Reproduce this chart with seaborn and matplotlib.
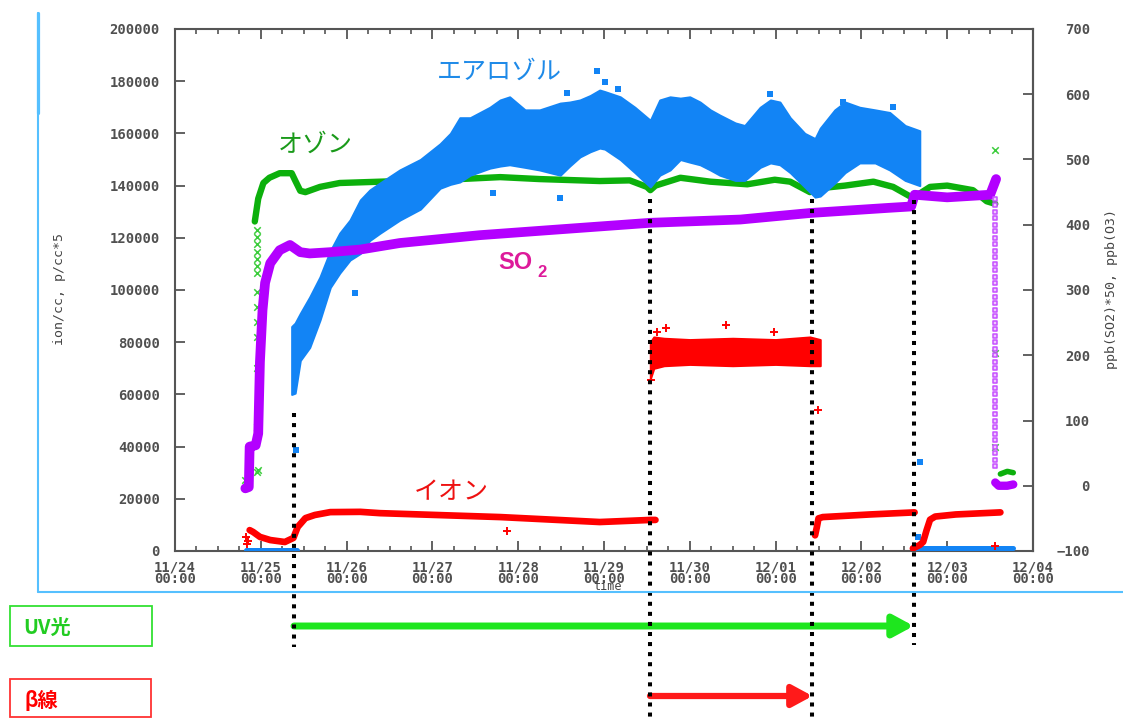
import numpy as np
import pandas as pd
import seaborn as sns
import matplotlib.pyplot as plt
import matplotlib.transforms as mtransforms
from matplotlib.patches import Rectangle
from matplotlib.lines import Line2D
from matplotlib.ticker import MultipleLocator

# ---------------- data (time in days since 11/24 00:00) ----------------
day_labels = ['11/24', '11/25', '11/26', '11/27', '11/28', '11/29',
              '11/30', '12/01', '12/02', '12/03', '12/04']
left_ticks = [0, 20000, 40000, 60000, 80000, 100000, 120000, 140000, 160000, 180000, 200000]
right_ticks = [-100, 0, 100, 200, 300, 400, 500, 600, 700]

# events: UV on, beta on, beta off, UV off
event_days = [1.387, 5.536, 7.43, 8.61]

# ozone, ppb (right axis)
ozone_t = [0.93, 0.97, 1.03, 1.10, 1.22, 1.36, 1.40, 1.46, 1.52, 1.69, 1.92, 2.39, 2.86, 3.32,
           3.79, 4.25, 4.72, 4.95, 5.30, 5.50, 5.54, 5.60, 5.89, 6.24, 6.67, 6.99, 7.17, 7.40,
           7.52, 7.81, 8.14, 8.37, 8.60, 8.80, 9.00, 9.30, 9.46, 9.56]
ozone_v = [405, 440, 464, 472, 479, 479, 468, 452, 450, 458, 464, 466, 468, 470,
           473, 470, 468, 467, 468, 458, 453, 460, 472, 466, 462, 469, 466, 450,
           456, 460, 466, 458, 441, 458, 460, 453, 436, 432]
ozone_end_t = [9.62, 9.70, 9.77]
ozone_end_v = [18, 22, 20]
ozone_sparse_t = [0.95, 0.95, 0.95, 0.95, 0.95, 0.95, 0.95, 0.95, 0.95, 0.95, 0.95, 0.95,
                  0.95, 0.95, 0.82, 0.97, 9.56, 9.56, 9.56]
ozone_sparse_v = [392, 381, 370, 359, 348, 337, 326, 297, 274, 251, 228, 180,
                  90, 21, 9, 24, 514, 204, 60]

# SO2*50, ppb (right axis)
so2_t = [0.82, 0.86, 0.87, 0.94, 0.97, 0.99, 1.02, 1.05, 1.11, 1.22, 1.34, 1.46, 1.57, 1.81,
         2.16, 2.62, 3.55, 4.49, 5.54, 6.59, 7.40, 8.33, 8.58, 8.62, 9.00, 9.50, 9.57]
so2_v = [-4, -2, 60, 62, 80, 190, 269, 311, 341, 361, 369, 358, 356, 358,
         362, 372, 384, 393, 403, 408, 418, 426, 428, 446, 442, 446, 470]
so2_fall_v = [440, 430, 420, 410, 400, 390, 380, 370, 360, 350, 340, 330, 320, 310,
              300, 290, 280, 270, 260, 250, 240, 230, 220, 210, 200, 190, 180, 170,
              160, 150, 140, 130, 120, 110, 100, 90, 80, 70, 60, 50, 40, 30]
so2_fall_day = 9.56
so2_end_t = [9.56, 9.60, 9.70, 9.77]
so2_end_v = [5, 0, 0, 2]

# aerosol envelope (left axis)
aer_t = [1.36, 1.40, 1.46, 1.57, 1.69, 1.81, 1.92, 2.04, 2.16, 2.27, 2.39, 2.62, 2.86, 3.09,
         3.21, 3.32, 3.44, 3.67, 3.79, 3.90, 4.08, 4.25, 4.49, 4.60, 4.72, 4.84, 4.95, 5.01,
         5.19, 5.36, 5.54, 5.65, 5.77, 5.89, 6.00, 6.12, 6.24, 6.35, 6.53, 6.64, 6.82, 6.94,
         7.05, 7.17, 7.34, 7.46, 7.52, 7.69, 7.81, 7.98, 8.16, 8.33, 8.51, 8.68]
aer_high = [86000, 87300, 91000, 97300, 105000, 115000, 121800, 126800, 134500, 138300,
            141000, 146000, 150000, 156000, 160000, 166000, 166000, 170000, 172800, 174000,
            169000, 169000, 171600, 172000, 172800, 174500, 176600, 176000, 174000, 170000,
            165000, 172800, 174000, 173500, 174000, 172000, 169000, 167000, 164000, 163000,
            170000, 172800, 172000, 166000, 160000, 158000, 162000, 169000, 172000, 170000,
            169000, 168000, 163000, 161000]
aer_low = [60000, 60500, 73000, 78000, 88500, 101000, 106500, 111500, 114000, 119000,
           121800, 126800, 131000, 139000, 140500, 141400, 144000, 146700, 147500, 148000,
           147000, 146000, 144000, 147500, 151000, 153000, 154400, 154000, 150000, 145000,
           139500, 144000, 146000, 150000, 149000, 148000, 146000, 144000, 142000, 142000,
           147000, 148700, 148000, 145000, 139500, 135600, 136000, 141000, 145000, 148700,
           148700, 146000, 142000, 140000]
aer_out_t = [4.92, 5.01, 5.16, 3.71, 4.49, 7.78, 8.37, 1.41, 8.68, 8.66, 2.10, 4.57, 6.93]
aer_out_v = [183900, 179700, 177000, 137000, 135300, 172000, 170000, 38700, 34000, 5400,
             98800, 175500, 175000]
aer_zero1_t = [0.83, 1.42]
aer_zero1_v = [400, 400]
aer_zero2_t = [8.60, 9.77]
aer_zero2_v = [1100, 1100]

# ions (left axis)
ion_a_t = [0.87, 0.91, 0.99, 1.11, 1.28, 1.38, 1.43, 1.52, 1.63, 1.81, 2.16, 2.39, 3.79,
           4.95, 5.54, 5.60]
ion_a_v = [8000, 7300, 5400, 4200, 3450, 5000, 9200, 12600, 13800, 14900, 15000, 14500,
           13000, 11100, 11900, 11900]
ion_beta_t = [5.54, 5.58, 5.70, 6.00, 6.50, 7.00, 7.40, 7.52]
ion_beta_low = [66000, 70000, 71000, 71500, 71000, 71500, 71000, 71000]
ion_beta_high = [80000, 82000, 81500, 81000, 81500, 81000, 82000, 81000]
ion_c_t = [7.46, 7.48, 7.50, 7.55, 8.10, 8.62]
ion_c_v = [6000, 9000, 12500, 13000, 14000, 14800]
ion_d_t = [8.60, 8.68, 8.72, 8.76, 8.80, 8.86, 9.10, 9.62]
ion_d_v = [1000, 2300, 3500, 8000, 12000, 13200, 14000, 14800]
ion_out_t = [3.87, 5.62, 5.72, 6.42, 5.55, 6.98, 7.49, 9.56, 0.83, 0.85, 0.84]
ion_out_v = [7700, 84000, 85400, 86600, 65500, 84000, 54000, 2000, 5500, 4000, 2500]

# ---------------- style ----------------
sns.set_style('white')
plt.rcParams['font.family'] = ['DejaVu Sans Mono']
JP = ['Noto Sans CJK JP', 'DejaVu Sans']

C_OZ = '#0cb00c'
C_SO2 = '#b300ff'
C_AER = '#1284f5'
C_ION = '#ff0000'
C_AX = '#555555'

W, H = 1123, 718
def fx(x):
    return x / W
def fy(y):
    return 1 - y / H

fig = plt.figure(figsize=(W / 100, H / 100), dpi=100)
ax = fig.add_axes([fx(175), fy(551), (1033 - 175) / W, (551 - 29) / H])
ax.set_xlim(0, 10)
ax.set_ylim(0, 200000)

def r2l(v):
    return (np.asarray(v, dtype=float) + 100) * 250

# ozone (below aerosol)
sns.lineplot(x=ozone_t, y=r2l(ozone_v), ax=ax, color=C_OZ, lw=4.6, estimator=None, sort=False, zorder=2)
sns.lineplot(x=ozone_end_t, y=r2l(ozone_end_v), ax=ax, color=C_OZ, lw=4.0, estimator=None, sort=False, zorder=2)
sns.scatterplot(x=ozone_sparse_t, y=r2l(ozone_sparse_v), ax=ax, marker='x', s=22, color='#3ccc3c',
                linewidth=1.1, zorder=2)

# aerosol
ax.fill_between(aer_t, aer_low, aer_high, color=C_AER, lw=1.5, edgecolor=C_AER, zorder=3)
sns.scatterplot(x=aer_out_t, y=aer_out_v, ax=ax, marker='s', s=16, color=C_AER, linewidth=0, zorder=3)
sns.lineplot(x=aer_zero1_t, y=aer_zero1_v, ax=ax, color=C_AER, lw=3.6, estimator=None, zorder=3)
sns.lineplot(x=aer_zero2_t, y=aer_zero2_v, ax=ax, color=C_AER, lw=3.6, estimator=None, zorder=3)

# SO2 (above aerosol)
sns.lineplot(x=so2_t, y=r2l(so2_v), ax=ax, color=C_SO2, lw=7.0, estimator=None, sort=False, zorder=4)
sns.lineplot(x=so2_end_t, y=r2l(so2_end_v), ax=ax, color=C_SO2, lw=6.0, estimator=None, sort=False, zorder=4)
sns.scatterplot(x=[so2_fall_day] * len(so2_fall_v), y=r2l(so2_fall_v), ax=ax, marker='s', s=10,
                facecolor='#f0c8ff', edgecolor='#c650ff', linewidth=1.1, zorder=4)

# ions
sns.lineplot(x=ion_a_t, y=ion_a_v, ax=ax, color=C_ION, lw=4.8, estimator=None, sort=False, zorder=5)
ax.fill_between(ion_beta_t, ion_beta_low, ion_beta_high, color=C_ION, lw=1.5, edgecolor=C_ION, zorder=5)
sns.lineplot(x=ion_c_t, y=ion_c_v, ax=ax, color=C_ION, lw=4.8, estimator=None, sort=False, zorder=5)
sns.lineplot(x=ion_d_t, y=ion_d_v, ax=ax, color=C_ION, lw=4.8, estimator=None, sort=False, zorder=5)
sns.scatterplot(x=ion_out_t, y=ion_out_v, ax=ax, marker='+', s=36, color=C_ION, linewidth=1.4, zorder=5)

# ---------------- axes styling ----------------
ax.set_xticks(range(len(day_labels)))
ax.set_xticklabels([d + '\n00:00' for d in day_labels])
ax.xaxis.set_minor_locator(MultipleLocator(0.25))
ax.set_yticks(left_ticks)
ax.set_yticklabels([str(v) for v in left_ticks])
ax.xaxis.set_ticks_position('both')
ax.tick_params(axis='x', which='major', direction='in', length=7, width=1.3, color=C_AX,
               pad=6.5, labelsize=10, labelcolor='#505050')
ax.tick_params(axis='x', which='minor', direction='in', length=3.5, width=1.2, color=C_AX)
ax.tick_params(axis='y', which='major', direction='in', length=7, width=1.3, color=C_AX,
               left=True, right=False, pad=11, labelsize=10, labelcolor='#505050')
for s in ax.spines.values():
    s.set_color(C_AX)
    s.set_linewidth(1.5)
for lbl in ax.get_xticklabels():
    lbl.set_linespacing(0.85)
    lbl.set_fontweight('bold')
for lbl in ax.get_yticklabels():
    lbl.set_fontweight('bold')
ax.set_xlabel('')
ax.set_ylabel('')

secax = ax.secondary_yaxis('right', functions=(lambda y: y / 250 - 100, lambda v: (v + 100) * 250))
secax.set_yticks(right_ticks)
secax.set_yticklabels([str(v).replace('-', '\u2212') for v in right_ticks])
secax.tick_params(axis='y', direction='in', length=7, width=1.3, color=C_AX, pad=41,
                  labelsize=10, labelcolor='#505050')
secax.spines['right'].set_color(C_AX)
secax.spines['right'].set_linewidth(1.5)
for lbl in secax.get_yticklabels():
    lbl.set_ha('right')
    lbl.set_fontweight('bold')

fig.text(fx(60), fy(289), 'ion/cc, p/cc*5', rotation=90, ha='center', va='center',
         fontsize=9.5, color='#444444')
fig.text(fx(1112), fy(289), 'ppb(SO2)*50, ppb(O3)', rotation=90, ha='center', va='center',
         fontsize=9.5, color='#444444')
fig.text(fx(607), fy(587), 'time', ha='center', va='center', fontsize=8.5, color='#444444')

# ---------------- annotations ----------------
fig.text(fx(499), fy(72), 'エアロゾル', family=JP, fontsize=18, color='#1e8ae8', ha='center', va='center')
fig.text(fx(315), fy(145), 'オゾン', family=JP, fontsize=18, color='#1a9a1a', ha='center', va='center')
fig.text(fx(451), fy(492), 'イオン', family=JP, fontsize=18, color='#ee1111', ha='center', va='center')
fig.text(fx(498), fy(262), 'SO', family=['Liberation Sans'], fontweight='bold', fontsize=17,
         color='#dd1a9a', ha='left', va='center')
fig.text(fx(537), fy(272), '2', family=['Liberation Sans'], fontweight='bold', fontsize=12,
         color='#dd1a9a', ha='left', va='center')

# event dotted lines (x = data, y = axes fraction)
trans = mtransforms.blended_transform_factory(ax.transData, ax.transAxes)
def afrac(ypx):
    return (551 - ypx) / 522
dot_spans = [(413, 647), (199, 718), (199, 718), (200, 645)]
for d, (y0, y1) in zip(event_days, dot_spans):
    ax.add_line(Line2D([d, d], [afrac(y0), afrac(y1)], transform=trans, clip_on=False,
                       color='black', lw=2.9, linestyle=(0, (1, 1.5)), zorder=20))

# arrows
ax.annotate('', xy=(event_days[3], afrac(626)), xytext=(event_days[0], afrac(626)),
            xycoords=trans, textcoords=trans, annotation_clip=False,
            arrowprops=dict(arrowstyle='-|>,head_length=1.2,head_width=0.65', color='#1ee61e',
                            lw=5, shrinkA=0, shrinkB=0, mutation_scale=10))
ax.annotate('', xy=(event_days[2], afrac(696)), xytext=(event_days[1], afrac(696)),
            xycoords=trans, textcoords=trans, annotation_clip=False,
            arrowprops=dict(arrowstyle='-|>,head_length=1.2,head_width=0.65', color='#ff1a1a',
                            lw=4.5, shrinkA=0, shrinkB=0, mutation_scale=10))

# frame lines and label boxes
C_FR = '#55c0ff'
fig.add_artist(Line2D([fx(38), fx(38)], [fy(13), fy(592)], transform=fig.transFigure, color=C_FR, lw=1.5))
fig.add_artist(Line2D([fx(37.5), fx(37.5)], [fy(13), fy(113)], transform=fig.transFigure, color=C_FR, lw=2.3))
fig.add_artist(Line2D([fx(38), fx(1123)], [fy(592), fy(592)], transform=fig.transFigure, color=C_FR, lw=1.5))

fig.add_artist(Rectangle((fx(10), fy(646)), (152 - 10) / W, (646 - 606) / H, transform=fig.transFigure,
                         fill=False, edgecolor='#33e033', lw=1.3))
fig.add_artist(Rectangle((fx(10), fy(717)), (151 - 10) / W, (717 - 679) / H, transform=fig.transFigure,
                         fill=False, edgecolor='#ff3333', lw=1.3))
fig.text(fx(23), fy(627), 'UV光', family=JP, fontweight='bold', fontsize=14.5, color='#22cc22',
         ha='left', va='center')
fig.text(fx(24), fy(700), 'β線', family=JP, fontweight='bold', fontsize=14.5, color='#ff0000',
         ha='left', va='center')

fig.savefig('out.png', dpi=100)
